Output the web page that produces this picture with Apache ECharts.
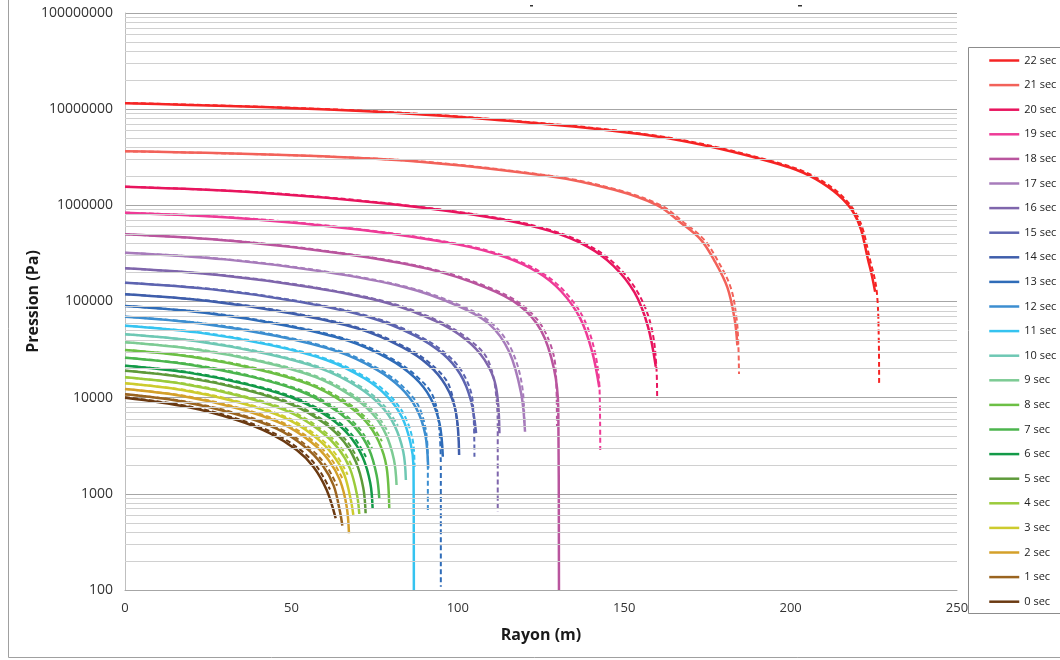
<!DOCTYPE html>
<html><head><meta charset="utf-8">
<script src="https://cdn.jsdelivr.net/npm/echarts@6/dist/echarts.min.js"></script>
<style>html,body{margin:0;padding:0;background:#fff}#c{width:1060px;height:660px}</style>
</head><body><div id="c"></div>
<script>
const times = ['0 sec','1 sec','2 sec','3 sec','4 sec','5 sec','6 sec','7 sec','8 sec','9 sec','10 sec','11 sec','12 sec','13 sec','14 sec','15 sec','16 sec','17 sec','18 sec','19 sec','20 sec','21 sec','22 sec'];
const colors = ['#6B3A12','#9A6420','#D4A02A','#CDCB2E','#9BCB3C','#5E9A3A','#139A48','#4CB54E','#6CBF45','#7DCB94','#6EC8B4','#35C3F0','#3C8ED0','#2F6CB8','#3F5EAB','#5D64B0','#7F66AC','#A77CBB','#B9559E','#EE3B97','#E8155E','#F2625A','#F52424'];
const xTicks = [0, 50, 100, 150, 200, 250];
const minorGrid = [200,300,400,500,600,700,800,900,2000,3000,4000,5000,6000,7000,8000,9000,20000,30000,40000,50000,60000,70000,80000,90000,200000,300000,400000,500000,600000,700000,800000,900000,2000000,3000000,4000000,5000000,6000000,7000000,8000000,9000000,20000000,30000000,40000000,50000000,60000000,70000000,80000000,90000000];

// solid curves [rayon (m), pression (Pa)]
const s0 = [[0,10000],[18.5,8050],[33.6,5860],[43.6,4260],[51.6,2860],[56.6,1915],[60.6,1096],[63.3,557]];
const s1 = [[0,10840],[16.3,9226],[32.7,6839],[45.7,4732],[54.2,3055],[59.4,1972],[62.7,1216],[64.6,653],[65.3,467]];
const s2 = [[0,12300],[16.8,10470],[33.7,7762],[47.1,5370],[55.9,3467],[61.2,2239],[64.6,1380],[66.6,741],[67.3,389]];
const s3 = [[0,14090],[17.2,11990],[34.3,8892],[48.0,6152],[56.9,3972],[62.4,2564],[65.9,1581],[67.9,849],[68.6,603]];
const s4 = [[0,16290],[17.6,13870],[35.2,10280],[49.3,7112],[58.4,4592],[64.1,2965],[67.6,1828],[69.7,982],[70.4,617]];
const s5 = [[0,19100],[18.1,16260],[36.2,12050],[50.6,8337],[60.0,5383],[65.8,3475],[69.4,2143],[71.6,1151],[72.3,628]];
const s6 = [[0,21530],[18.6,18320],[37.2,13580],[52.1,9397],[61.8,6067],[67.7,3917],[71.4,2415],[73.7,1297],[74.4,708]];
const s7 = [[0,26060],[19.1,22180],[38.2,16440],[53.5,11380],[63.4,7345],[69.5,4742],[73.3,2924],[75.6,1570],[76.4,900]];
const s8 = [[0,31330],[19.9,26670],[39.7,19770],[55.6,13680],[65.9,8831],[72.3,5702],[76.2,3516],[78.6,1888],[79.4,708]];
const s9 = [[0,37670],[20.4,32060],[40.8,23770],[57.1,16440],[67.7,10620],[74.3,6855],[78.3,4227],[80.8,2270],[81.6,1236]];
const s10 = [[0,45600],[21.1,38820],[42.2,28770],[59.1,19910],[70.1,12850],[76.8,8299],[81.0,5117],[83.6,2748],[84.4,1393]];
const s11 = [[0,56100],[21.7,47750],[43.4,35400],[60.7,24490],[72.0,15810],[78.9,10210],[83.2,6295],[85.8,3381],[86.7,1914],[86.8,100]];
const s12 = [[0,69500],[22.8,59160],[45.6,43850],[63.8,30340],[75.6,19590],[82.9,12650],[87.5,7798],[90.2,4188],[91.1,1845]];
const s13 = [[0,89740],[23.9,76380],[47.8,56620],[66.9,39170],[79.3,25290],[86.9,16330],[91.7,10070],[94.5,5408],[95.5,2432]];
const s14 = [[0,118900],[25.1,101200],[50.2,74990],[70.3,51880],[83.3,33500],[91.4,21630],[96.4,13340],[99.4,7161],[100.4,2535]];
const s15 = [[0,157000],[26.2,133700],[52.5,99080],[73.4,68550],[87.1,44260],[95.5,28580],[100.7,17620],[103.9,9462],[105.5,4270]];
const s16 = [[0,221300],[28.1,188400],[56.3,139600],[78.8,96610],[93.4,62370],[102.4,40270],[108.0,24830],[111.4,13340],[112.5,4256]];
const s17 = [[0,322100],[30.1,274200],[60.1,203200],[84.1,140600],[99.8,90780],[109.4,58610],[115.4,30200],[119.0,11220],[120.2,4426]];
const s18 = [[0,500000],[32.6,425600],[65.1,315500],[91.1,218300],[108.1,140900],[118.5,90990],[125.0,50120],[128.9,19950],[130.2,7447],[130.4,100]];
const s19 = [[0,839500],[35.6,731100],[71.3,554600],[99.8,392600],[114.0,291100],[124.0,201400],[131.1,127100],[136.8,66680],[140.4,29790],[142.5,12820]];
const s20 = [[0,1563000],[39.9,1361000],[79.8,1033000],[111.7,731100],[127.6,542000],[138.8,375000],[146.7,236600],[153.1,124200],[157.1,55460],[159.5,20990]];
const s21 = [[0,3650000],[78.9,3000000],[127.2,2020000],[147,1450000],[160,1000000],[167,660000],[173,440000],[177,270000],[181,140000],[183.2,65000],[184,35000]];
const s22 = [[0,11500000],[62.8,9840000],[111.1,7760000],[159.3,5220000],[191.5,3000000],[207.6,1870000],[218.9,843000],[223.7,237000],[225.4,126000]];

// dashed curves
const d0 = [[0,10100],[19.5,8100],[34.6,5900],[44.6,4300],[52.6,2880],[57.6,1930],[61.6,1110]];
const d1 = [[0,10840],[17.3,9226],[33.7,6839],[46.7,4732],[55.2,3055],[60.4,1972],[63.7,1216]];
const d2 = [[0,12300],[17.8,10470],[34.7,7762],[48.1,5370],[56.9,3467],[62.2,2239],[65.6,1380]];
const d3 = [[0,14090],[18.2,11990],[35.3,8892],[49.0,6152],[57.9,3972],[63.4,2564],[66.9,1581]];
const d4 = [[0,16290],[18.6,13870],[36.2,10280],[50.3,7112],[59.4,4592],[65.1,2965],[68.6,1828]];
const d5 = [[0,19100],[19.1,16260],[37.2,12050],[51.6,8337],[61.0,5383],[66.8,3475],[70.4,2143]];
const d6 = [[0,21530],[19.6,18320],[38.2,13580],[53.1,9397],[62.8,6067],[68.7,3917],[72.4,2415]];
const d7 = [[0,26060],[20.1,22180],[39.2,16440],[54.5,11380],[64.4,7345],[70.5,4742],[74.3,2924]];
const d8 = [[0,31330],[20.9,26670],[40.7,19770],[56.6,13680],[66.9,8831],[73.3,5702],[77.2,3516]];
const d9 = [[0,37670],[21.4,32060],[41.8,23770],[58.1,16440],[68.7,10620],[75.3,6855],[79.3,4227]];
const d10 = [[0,45600],[22.1,38820],[43.2,28770],[60.1,19910],[71.1,12850],[77.8,8299],[82.0,5117]];
const d11 = [[0,56100],[22.7,47750],[44.4,35400],[61.7,24490],[73.0,15810],[79.9,10210],[84.2,6295],[86.6,3381],[87.0,1900]];
const d12 = [[0,69500],[23.8,59160],[46.6,43850],[64.8,30340],[76.6,19590],[83.9,12650],[88.5,7798],[90.8,3500],[91.0,1850],[91.0,652]];
const d13 = [[0,89740],[24.9,76380],[48.8,56620],[67.9,39170],[80.3,25290],[87.9,16330],[92.7,10070],[94.6,4000],[94.9,1500],[94.9,108]];
const d14 = [[0,118900],[26.1,101200],[51.2,74990],[71.3,51880],[84.3,33500],[92.4,21630],[97.4,13340],[100.0,5000]];
const d15 = [[0,157000],[27.2,133700],[53.5,99080],[74.4,68550],[88.1,44260],[96.5,28580],[101.7,17620],[104.5,9000],[105.0,2432]];
const d16 = [[0,221300],[29.1,188400],[57.3,139600],[79.8,96610],[94.4,62370],[103.4,40270],[109.0,24830],[111.6,10000],[112.0,4000],[112.0,652]];
const d17 = [[0,322100],[31.1,274200],[61.1,203200],[85.1,140600],[100.8,90780],[110.4,58610],[116.4,30200],[119.6,11220],[120.0,5000]];
const d18 = [[0,500000],[33.6,425600],[66.1,315500],[92.1,218300],[109.1,140900],[119.5,90990],[126.0,50120],[129.4,19950],[129.8,4990]];
const d19 = [[0,839500],[36.6,731100],[72.3,554600],[100.8,392600],[115.0,291100],[125.0,201400],[132.1,127100],[137.8,66680],[141.2,29790],[142.6,12000],[142.8,2860]];
const d20 = [[0,1563000],[40.9,1361000],[80.8,1033000],[112.7,731100],[128.6,542000],[139.8,375000],[147.7,236600],[154.1,124200],[158.1,55460],[159.7,20000],[159.9,9620]];
const d21 = [[0,3650000],[79.9,3000000],[128.2,2020000],[148,1450000],[161,1000000],[168,660000],[174,440000],[178,270000],[182,140000],[183.8,65000],[184.3,35000],[184.5,17600]];
const d22 = [[0,11600000],[63.8,9900000],[112.1,7800000],[160.3,5250000],[192.5,3000000],[208.6,1870000],[219.5,843000],[224.3,237000],[225.9,126000],[226.5,40000],[226.6,13900]];

const solid = [s0,s1,s2,s3,s4,s5,s6,s7,s8,s9,s10,s11,s12,s13,s14,s15,s16,s17,s18,s19,s20,s21,s22];
const dashed = [d0,d1,d2,d3,d4,d5,d6,d7,d8,d9,d10,d11,d12,d13,d14,d15,d16,d17,d18,d19,d20,d21,d22];

const FONT = "'Open Sans', 'Liberation Sans', sans-serif";
const series = [{
  type: 'line', name: 'grid', data: [], silent: true, z: 1,
  markLine: {
    silent: true, symbol: ['none', 'none'], animation: false,
    label: {show: false},
    lineStyle: {color: '#D0D0D0', width: 1, type: 'solid'},
    data: minorGrid.map(v => ({yAxis: v}))
  }
}];
solid.forEach((d, i) => series.push({
  type: 'line', name: times[i], data: d, smooth: 0.35,
  symbol: 'none', z: 3, animation: false,
  lineStyle: {width: 2.5, color: colors[i]}, itemStyle: {color: colors[i]}
}));
dashed.forEach((d, i) => series.push({
  type: 'line', name: times[i] + ' (b)', data: d, smooth: 0.35,
  symbol: 'none', z: 4, animation: false,
  lineStyle: {width: 2, type: [5, 3], color: colors[i]}, itemStyle: {color: colors[i]}
}));

const chart = echarts.init(document.getElementById('c'), null, {renderer: 'canvas'});
chart.setOption({
  backgroundColor: '#fff',
  animation: false,
  grid: {left: 125, right: 103, top: 13, bottom: 70, containLabel: false},
  xAxis: {
    type: 'value', min: 0, max: 250, interval: 50,
    name: 'Rayon (m)', nameLocation: 'middle', nameGap: 37,
    nameTextStyle: {fontFamily: FONT, fontSize: 16, fontWeight: 'bold', color: '#1a1a1a'},
    axisLine: {show: true, lineStyle: {color: '#A6A6A6', width: 1}},
    axisTick: {show: false},
    splitLine: {show: false},
    axisLabel: {fontFamily: FONT, fontSize: 13, color: '#333', margin: 12,
      formatter: v => xTicks.includes(v) ? String(v) : ''}
  },
  yAxis: {
    type: 'log', logBase: 10, min: 100, max: 100000000,
    name: 'Pression (Pa)', nameLocation: 'middle', nameGap: 84, nameMoveOverlap: false,
    nameTextStyle: {fontFamily: FONT, fontSize: 16, fontWeight: 'bold', color: '#1a1a1a'},
    axisLine: {show: true, lineStyle: {color: '#BFBFBF', width: 1}},
    axisTick: {show: false},
    splitLine: {show: true, lineStyle: {color: '#A6A6A6', width: 1}},
    axisLabel: {fontFamily: FONT, fontSize: 14, color: '#333', margin: 12,
      formatter: v => String(Math.round(v))}
  },
  legend: {
    orient: 'vertical', left: 983, top: 50,
    itemWidth: 30, itemHeight: 12, itemGap: 13.6,
    data: times.slice().reverse(),
    textStyle: {fontFamily: FONT, fontSize: 11, color: '#222'},
    itemStyle: {opacity: 0},
    lineStyle: {width: 2.5},
    selectedMode: false
  },
  graphic: [
    {type: 'rect', shape: {x: 968.5, y: 47.5, width: 120, height: 566}, style: {fill: null, stroke: '#8C8C8C', lineWidth: 1}, silent: true},
    {type: 'line', shape: {x1: 8.5, y1: 0, x2: 8.5, y2: 657.5}, style: {stroke: '#A0A0A0', lineWidth: 1}, silent: true},
    {type: 'line', shape: {x1: 8.5, y1: 657.5, x2: 1060, y2: 657.5}, style: {stroke: '#A0A0A0', lineWidth: 1}, silent: true},
    {type: 'rect', shape: {x: 530, y: 5, width: 3, height: 1.5}, style: {fill: '#333'}, silent: true},
    {type: 'rect', shape: {x: 798, y: 5, width: 4, height: 1.5}, style: {fill: '#333'}, silent: true}
  ],
  series: series
});
</script></body></html>
